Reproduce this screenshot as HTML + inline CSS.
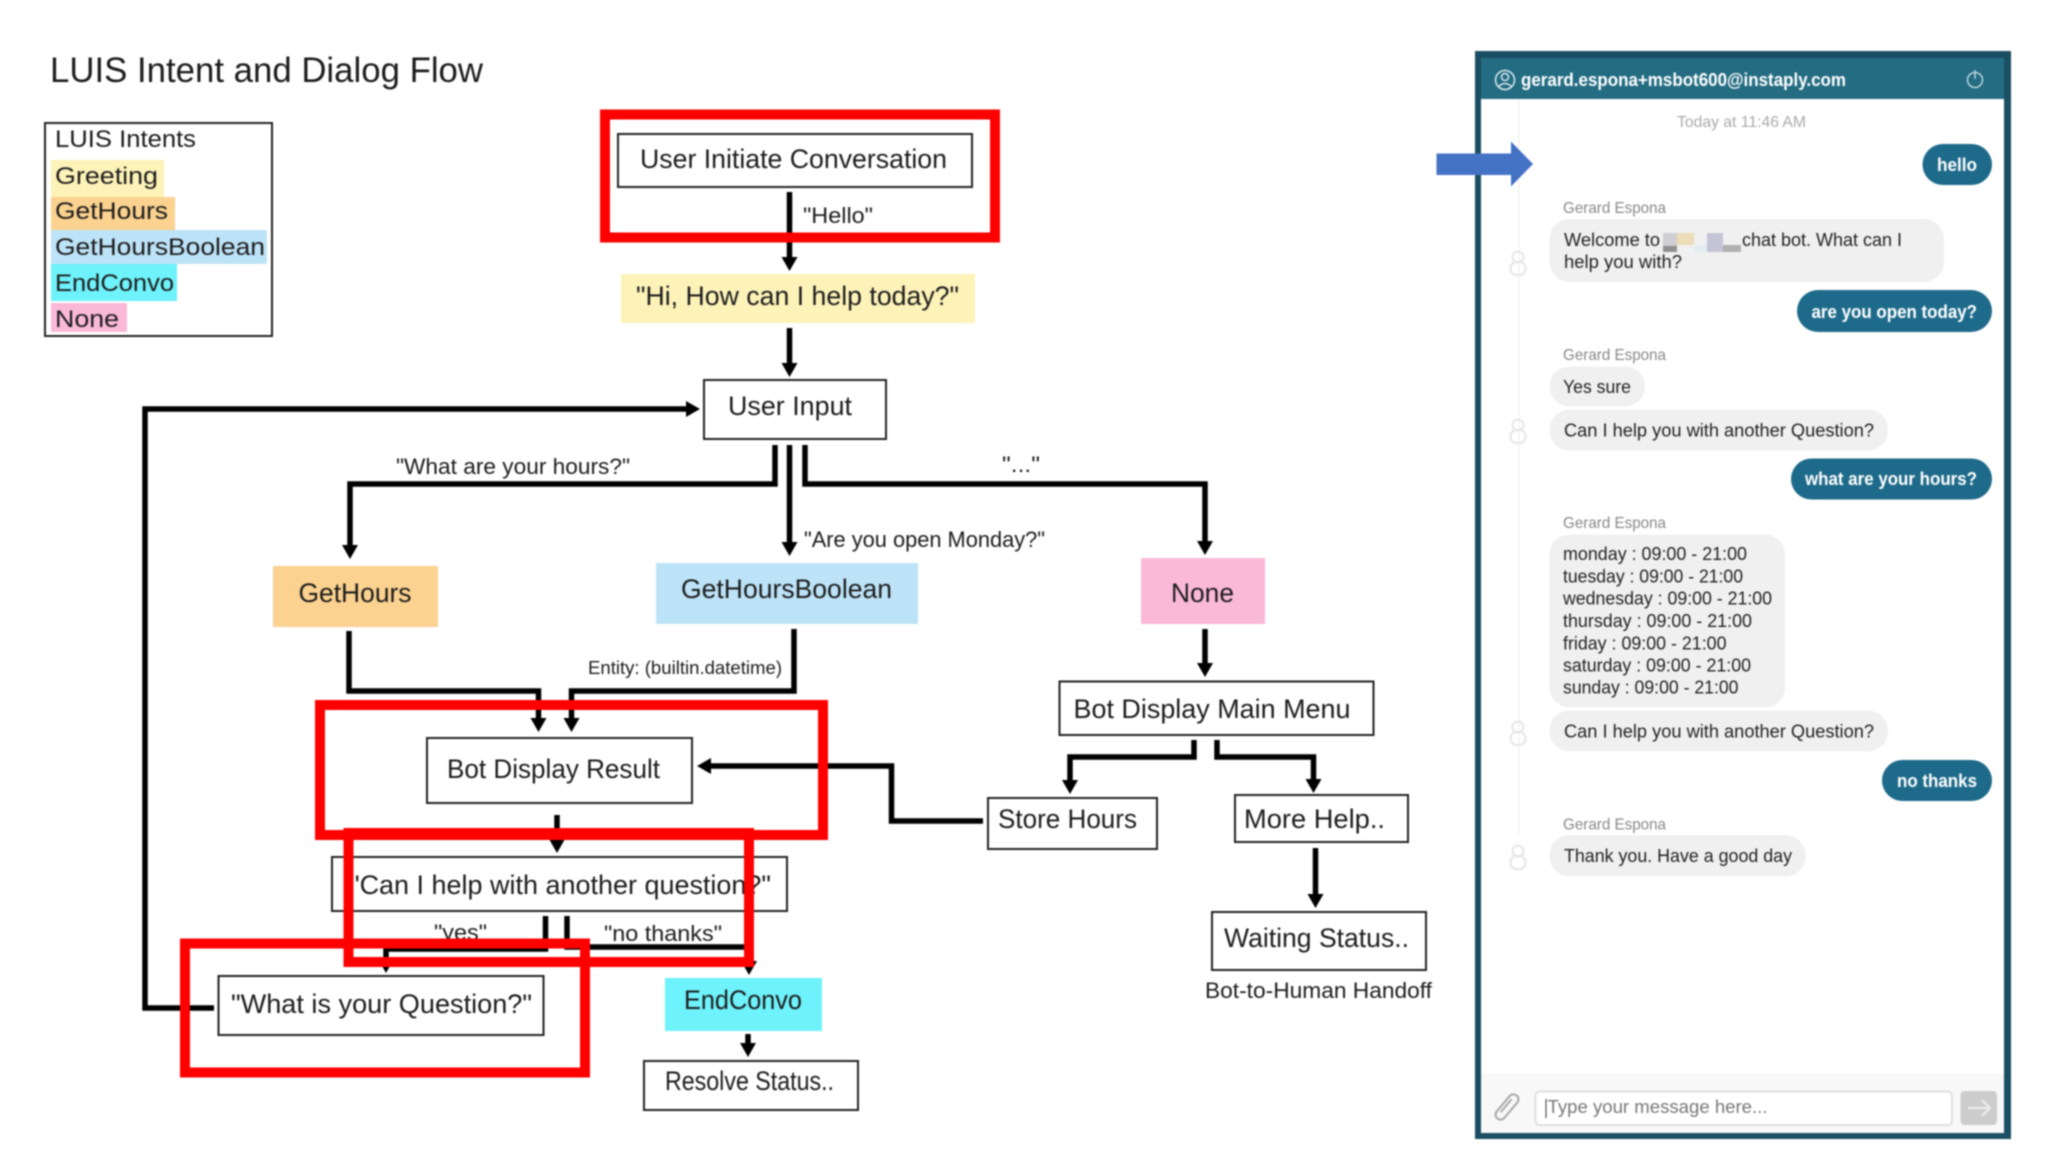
<!DOCTYPE html>
<html><head><meta charset="utf-8"><title>LUIS Intent and Dialog Flow</title>
<style>
html,body{margin:0;padding:0;background:#fff;width:2048px;height:1152px;overflow:hidden}
svg{display:block;filter:blur(.7px)}
text{font-family:"Liberation Sans",sans-serif;fill:#1c1c1c}
.b{fill:#fff;stroke:#222;stroke-width:2}
.w{fill:none;stroke:#000;stroke-width:5.5}
.r{fill:none;stroke:#f00;stroke-width:10}
.c{font-size:18px;fill:#222}
.g{font-size:16px;fill:#888}
.u{font-size:18px;fill:#fff;font-weight:bold}
.bub{fill:#f0f0f0}
.dk{fill:#1e6a8a}
.ic{fill:none;stroke:#e6e6e6;stroke-width:2}
.l{fill:#fff}
</style></head><body>
<svg xmlns="http://www.w3.org/2000/svg" width="2048" height="1152" viewBox="0 0 2048 1152">
<defs>
<marker id="a" markerUnits="userSpaceOnUse" markerWidth="16" markerHeight="18" refX="0" refY="8" orient="auto" overflow="visible"><path d="M0 0L14 8L0 16Z" fill="#000"/></marker>
</defs>
<rect width="2048" height="1152" fill="#fff"/>

<text x="50" y="82" font-size="35" textLength="433" lengthAdjust="spacingAndGlyphs">LUIS Intent and Dialog Flow</text>

<!-- legend -->
<rect x="45" y="123" width="227" height="213" class="b"/>
<rect x="51" y="160" width="113" height="37" fill="#fdf3b9"/>
<rect x="51" y="197" width="124" height="33" fill="#fbd28f"/>
<rect x="51" y="230" width="216" height="34" fill="#bde3f8"/>
<rect x="51" y="264" width="126" height="37" fill="#6ef2fb"/>
<rect x="51" y="303" width="76" height="29" fill="#fbb9d8"/>
<g font-size="24">
<text x="55" y="147" textLength="141" lengthAdjust="spacingAndGlyphs">LUIS Intents</text>
<text x="55" y="184" textLength="103" lengthAdjust="spacingAndGlyphs">Greeting</text>
<text x="55" y="219" textLength="113" lengthAdjust="spacingAndGlyphs">GetHours</text>
<text x="55" y="255" textLength="210" lengthAdjust="spacingAndGlyphs">GetHoursBoolean</text>
<text x="55" y="291" textLength="119" lengthAdjust="spacingAndGlyphs">EndConvo</text>
<text x="55" y="327" textLength="64" lengthAdjust="spacingAndGlyphs">None</text>
</g>

<!-- filled nodes -->
<rect x="621" y="274" width="354" height="49" fill="#fdf3b9"/>
<rect x="273" y="566" width="165" height="61" fill="#fbd28f"/>
<rect x="656" y="563" width="262" height="61" fill="#bde3f8"/>
<rect x="1141" y="558" width="124" height="66" fill="#fbb9d8"/>
<rect x="665" y="978" width="157" height="53" fill="#6ef2fb"/>

<!-- boxes -->
<rect x="618" y="134" width="354" height="53" class="b"/>
<rect x="704" y="380" width="182" height="59" class="b"/>
<rect x="427" y="738" width="265" height="65" class="b"/>
<rect x="332" y="857" width="455" height="54" class="b"/>
<rect x="218.500" y="976" width="325" height="59" class="b"/>
<rect x="644" y="1061" width="214" height="49" class="b"/>
<rect x="1059.500" y="681.500" width="314" height="53.500" class="b"/>
<rect x="988" y="798" width="169" height="51" class="b"/>
<rect x="1235" y="795" width="173" height="47" class="b"/>
<rect x="1212" y="912" width="214" height="58" class="b"/>

<!-- connectors -->
<path class="w" d="M789.500 192V257" marker-end="url(#a)"/>
<path class="w" d="M789.500 328V363" marker-end="url(#a)"/>
<path class="w" d="M214 1008H145V409H686" marker-end="url(#a)"/>
<path class="w" d="M775 445V484H350V545" marker-end="url(#a)"/>
<path class="w" d="M789.500 445V542" marker-end="url(#a)"/>
<path class="w" d="M805 445V484H1205V541" marker-end="url(#a)"/>
<path class="w" d="M349 631V691H538.500V718" marker-end="url(#a)"/>
<path class="w" d="M794 629V691H571.500V718" marker-end="url(#a)"/>
<path class="w" d="M983 821H891.500V766H711" marker-end="url(#a)"/>
<path class="w" d="M557 815V839" marker-end="url(#a)"/>
<path class="w" d="M545.500 916V949H386V959" marker-end="url(#a)"/>
<path class="w" d="M567 916V947H749V961" marker-end="url(#a)"/>
<path class="w" d="M748 1034V1043" marker-end="url(#a)"/>
<path class="w" d="M1205 629V663" marker-end="url(#a)"/>
<path class="w" d="M1194 740V757H1070V780" marker-end="url(#a)"/>
<path class="w" d="M1217 740V757H1313.500V779" marker-end="url(#a)"/>
<path class="w" d="M1315.500 848V894" marker-end="url(#a)"/>

<!-- flow labels -->
<g font-size="26.500">
<text x="640" y="168" textLength="307" lengthAdjust="spacingAndGlyphs">User Initiate Conversation</text>
<text x="636" y="305" textLength="323" lengthAdjust="spacingAndGlyphs">"Hi, How can I help today?"</text>
<text x="728" y="415" textLength="124" lengthAdjust="spacingAndGlyphs">User Input</text>
<text x="298.500" y="602" textLength="113" lengthAdjust="spacingAndGlyphs">GetHours</text>
<text x="681" y="598" textLength="211" lengthAdjust="spacingAndGlyphs">GetHoursBoolean</text>
<text x="1171" y="602" textLength="63" lengthAdjust="spacingAndGlyphs">None</text>
<text x="447" y="778" textLength="213" lengthAdjust="spacingAndGlyphs">Bot Display Result</text>
<text x="350" y="894" textLength="421" lengthAdjust="spacingAndGlyphs">"Can I help with another question?"</text>
<text x="231" y="1013" textLength="301" lengthAdjust="spacingAndGlyphs">"What is your Question?"</text>
<text x="684" y="1009" textLength="118" lengthAdjust="spacingAndGlyphs">EndConvo</text>
<text x="665" y="1090" textLength="169" lengthAdjust="spacingAndGlyphs">Resolve Status..</text>
<text x="1073.500" y="718" textLength="277" lengthAdjust="spacingAndGlyphs">Bot Display Main Menu</text>
<text x="998" y="828" textLength="139" lengthAdjust="spacingAndGlyphs">Store Hours</text>
<text x="1244" y="828" textLength="141" lengthAdjust="spacingAndGlyphs">More Help..</text>
<text x="1224" y="947" textLength="185" lengthAdjust="spacingAndGlyphs">Waiting Status..</text>
</g>
<g font-size="22">
<text x="803" y="223" textLength="70" lengthAdjust="spacingAndGlyphs">"Hello"</text>
<text x="396" y="474" textLength="234" lengthAdjust="spacingAndGlyphs">"What are your hours?"</text>
<text x="1002" y="472" textLength="38" lengthAdjust="spacingAndGlyphs">"..."</text>
<text x="804" y="547" textLength="241" lengthAdjust="spacingAndGlyphs">"Are you open Monday?"</text>
<text x="434" y="940" textLength="53" lengthAdjust="spacingAndGlyphs">"yes"</text>
<text x="604" y="941" textLength="118" lengthAdjust="spacingAndGlyphs">"no thanks"</text>
<text x="1205" y="998" textLength="227" lengthAdjust="spacingAndGlyphs">Bot-to-Human Handoff</text>
</g>
<text x="588" y="674" font-size="18" textLength="194" lengthAdjust="spacingAndGlyphs">Entity: (builtin.datetime)</text>

<!-- red highlight frames -->
<rect x="605" y="114.500" width="390" height="123" class="r"/>
<rect x="320" y="705" width="503" height="130" class="r"/>
<rect x="348.500" y="833" width="400.500" height="129" class="r"/>
<rect x="185" y="943.500" width="400" height="129" class="r"/>

<!-- chat panel -->
<rect x="1475" y="51" width="536" height="1088" fill="#1a4f63"/>
<rect x="1481" y="58" width="523" height="1075" rx="3" fill="#fff"/>
<path d="M1481 99V61a3 3 0 0 1 3-3h517a3 3 0 0 1 3 3V99Z" fill="#236c82"/>
<rect x="1481" y="1075" width="523" height="58" fill="#f8f8f8"/>
<line x1="1481" y1="1075" x2="2004" y2="1075" stroke="#f0f0f0"/>
<line x1="1519" y1="99" x2="1519" y2="835" stroke="#f6f6f6" stroke-width="2"/>

<g fill="none" stroke="#dceaee" stroke-width="1.500">
<circle cx="1505" cy="80" r="9.500"/><circle cx="1505" cy="77" r="3.500"/><path d="M1498 87q7-7 14 0"/>
<circle cx="1975" cy="80" r="7.500" stroke="#b9d3db"/><line x1="1975" y1="70" x2="1975" y2="79" stroke="#b9d3db"/>
</g>
<text x="1521" y="86" class="u" textLength="325" lengthAdjust="spacingAndGlyphs">gerard.espona+msbot600@instaply.com</text>
<text x="1677" y="127" font-size="16" style="fill:#aaa" textLength="129" lengthAdjust="spacingAndGlyphs">Today at 11:46 AM</text>

<rect x="1922.500" y="144" width="69.500" height="41" rx="20.500" class="dk"/>
<rect x="1797" y="290" width="195" height="42" rx="21" class="dk"/>
<rect x="1791" y="458.500" width="201" height="41" rx="20.500" class="dk"/>
<rect x="1882" y="760" width="110" height="41" rx="20.500" class="dk"/>
<g font-size="18" font-weight="bold">
<text x="1937" y="171" class="l" textLength="40" lengthAdjust="spacingAndGlyphs">hello</text>
<text x="1811.500" y="318" class="l" textLength="165.500" lengthAdjust="spacingAndGlyphs">are you open today?</text>
<text x="1805" y="485" class="l" textLength="172" lengthAdjust="spacingAndGlyphs">what are your hours?</text>
<text x="1897" y="787" class="l" textLength="80" lengthAdjust="spacingAndGlyphs">no thanks</text>
</g>

<text x="1563" y="213" class="g" textLength="103" lengthAdjust="spacingAndGlyphs">Gerard Espona</text>
<text x="1563" y="360" class="g" textLength="103" lengthAdjust="spacingAndGlyphs">Gerard Espona</text>
<text x="1563" y="528" class="g" textLength="103" lengthAdjust="spacingAndGlyphs">Gerard Espona</text>
<text x="1563" y="829.500" class="g" textLength="103" lengthAdjust="spacingAndGlyphs">Gerard Espona</text>

<rect x="1549.500" y="219" width="394.500" height="63" rx="20" class="bub"/>
<rect x="1549.500" y="366.500" width="95.500" height="40" rx="20" class="bub"/>
<rect x="1549.500" y="409.500" width="338.500" height="41" rx="20" class="bub"/>
<rect x="1549.500" y="534.500" width="235.500" height="173" rx="20" class="bub"/>
<rect x="1549.500" y="710.500" width="338.500" height="41" rx="20" class="bub"/>
<rect x="1549.500" y="835" width="256" height="41.500" rx="20" class="bub"/>

<rect x="1663" y="233" width="14" height="19" fill="#cfcfd2"/>
<rect x="1663" y="246" width="14" height="6" fill="#8f8f8f"/>
<rect x="1677" y="233" width="17" height="12" fill="#ecdcb8"/>
<rect x="1694" y="245" width="13" height="7" fill="#e4eef2"/>
<rect x="1707" y="233" width="16" height="19" fill="#c4c4d6"/>
<rect x="1723" y="245" width="18" height="7" fill="#b0b0b0"/>

<text x="1564" y="246" class="c" textLength="96" lengthAdjust="spacingAndGlyphs">Welcome to</text>
<text x="1742" y="246" class="c" textLength="160" lengthAdjust="spacingAndGlyphs">chat bot. What can I</text>
<text x="1564" y="268" class="c" textLength="118" lengthAdjust="spacingAndGlyphs">help you with?</text>
<text x="1563" y="393" class="c" textLength="68" lengthAdjust="spacingAndGlyphs">Yes sure</text>
<text x="1564" y="436.500" class="c" textLength="310" lengthAdjust="spacingAndGlyphs">Can I help you with another Question?</text>
<text x="1563" y="560" class="c" textLength="184" lengthAdjust="spacingAndGlyphs">monday : 09:00 - 21:00</text>
<text x="1563" y="582.500" class="c" textLength="180" lengthAdjust="spacingAndGlyphs">tuesday : 09:00 - 21:00</text>
<text x="1563" y="604.500" class="c" textLength="209" lengthAdjust="spacingAndGlyphs">wednesday : 09:00 - 21:00</text>
<text x="1563" y="627" class="c" textLength="189" lengthAdjust="spacingAndGlyphs">thursday : 09:00 - 21:00</text>
<text x="1563" y="649.500" class="c" textLength="163.500" lengthAdjust="spacingAndGlyphs">friday : 09:00 - 21:00</text>
<text x="1563" y="671.500" class="c" textLength="188" lengthAdjust="spacingAndGlyphs">saturday : 09:00 - 21:00</text>
<text x="1563" y="693.500" class="c" textLength="175.500" lengthAdjust="spacingAndGlyphs">sunday : 09:00 - 21:00</text>
<text x="1564" y="737.500" class="c" textLength="310" lengthAdjust="spacingAndGlyphs">Can I help you with another Question?</text>
<text x="1564" y="862" class="c" textLength="228" lengthAdjust="spacingAndGlyphs">Thank you. Have a good day</text>

<g transform="translate(1518 264)"><circle cy="-7" r="5.500" class="ic"/><rect x="-7.500" y="-2" width="15" height="13" rx="6" class="ic"/></g>
<g transform="translate(1518 432)"><circle cy="-7" r="5.500" class="ic"/><rect x="-7.500" y="-2" width="15" height="13" rx="6" class="ic"/></g>
<g transform="translate(1518 734)"><circle cy="-7" r="5.500" class="ic"/><rect x="-7.500" y="-2" width="15" height="13" rx="6" class="ic"/></g>
<g transform="translate(1518 858)"><circle cy="-7" r="5.500" class="ic"/><rect x="-7.500" y="-2" width="15" height="13" rx="6" class="ic"/></g>

<!-- input row -->
<g transform="translate(1507 1107) rotate(40)" fill="none" stroke="#a8a8a8" stroke-width="2">
<rect x="-5" y="-15" width="10" height="30" rx="5"/><path d="M-1.500 -9V8"/>
</g>
<rect x="1535.500" y="1091.500" width="416.500" height="33.500" rx="4" fill="#fff" stroke="#d8d8d8" stroke-width="1.500"/>
<line x1="1546" y1="1099" x2="1546" y2="1118" stroke="#333" stroke-width="1"/>
<text x="1547.500" y="1113" font-size="18" style="fill:#777" textLength="220" lengthAdjust="spacingAndGlyphs">Type your message here...</text>
<rect x="1960.500" y="1091" width="36.500" height="34" rx="4" fill="#cccccc"/>
<path d="M1968 1108H1990M1982 1100L1990 1108L1982 1116" fill="none" stroke="#eeeeee" stroke-width="2"/>

<!-- blue arrow -->
<path d="M1436.500 153.500H1511V141.500L1533 164L1511 186.500V175H1436.500Z" fill="#4472c4"/>
</svg>
</body></html>
